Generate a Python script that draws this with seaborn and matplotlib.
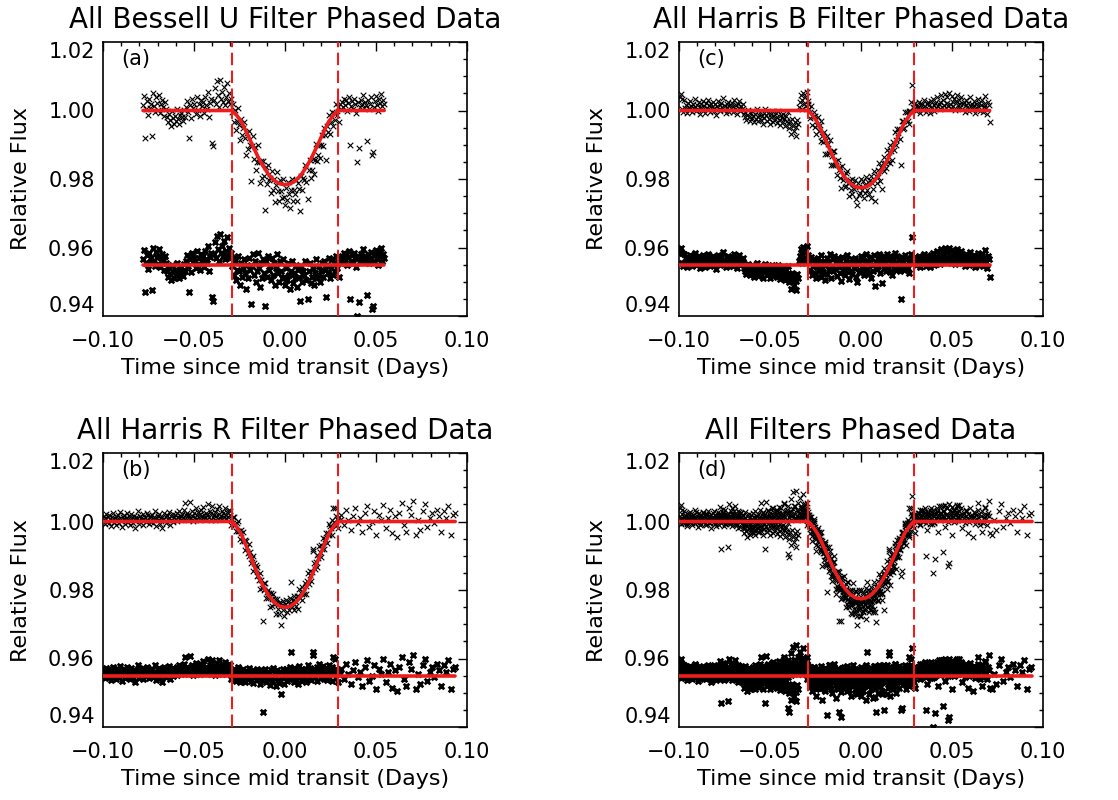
import numpy as np
import matplotlib
matplotlib.use("Agg")
import matplotlib.pyplot as plt
import seaborn as sns

# ---------------------------------------------------------------------------
# Transit model: normalised limb-darkened profile sampled in |t| (days)
# ---------------------------------------------------------------------------
contact_time = 0.029
profile_t = [0.0, 0.003, 0.006, 0.009, 0.012, 0.015, 0.018, 0.021, 0.024, 0.027, 0.029]
profile_shape = [1.0, 0.985, 0.94, 0.86, 0.75, 0.615, 0.46, 0.30, 0.15, 0.05, 0.0]

depth_U = 0.0217
depth_B = 0.0226
depth_R = 0.0251
depth_all = 0.0226

residual_offset = 0.955
contact_spike = 0.004

# observing coverage (start, end) in days from mid transit
span_U = (-0.078, 0.0545)
span_B = (-0.0995, 0.0707)
span_R_dense = (-0.1, 0.030)
span_R_tail = (0.031, 0.0935)
span_all = (-0.1, 0.094)

# residuals from the fitted model, in units of 1e-4 relative flux (time order)
resid_U = [
    15, 42, -80, 5, 28, -12, 33, 8, 20, -75, 50, 12, -5, 38, 22, 2, 45, -8, 18, 30,
    10, -15, 25, 5, -20, -35, -10, -28, -45, 0, -22, -38, -15, -30, 5, -25, -40, -12, -8, -20,
    -32, 2, -18, 10, 28, -5, -80, 15, -22, 35, 8, 20, -10, 40, 2, 18, -15, 30, 12, 25,
    -8, 40, 15, 5, 55, -20, 22, 35, -95, -105, 30, 65, 20, 85, 45, 10, 90, 35, 55, 25,
    70, 15, 40, 80, 28, 50, 18, 35, -5, 20, -30, 10, -45, -15, 25, -20, -60, 5, -35, -10,
    15, -25, -70, 0, -40, 20, -15, -115, -5, 30, -30, 10, -50, -20, 35, -10, -65, 5, -40, 15,
    -25, -120, 10, -35, 25, -15, -5, -45, 20, -30, 5, -60, -10, 30, -25, -50, 10, -20, -40, 15,
    -35, -60, -10, -45, 5, -30, -70, -20, 10, -55, -25, -40, 0, -65, -15, -35, -105, -5, -50, -20,
    -30, 10, -45, -100, -20, 5, -55, -35, -10, -60, -25, 15, -40, -30, -5, -50, -20, 5, -35, 10,
    -15, -95, 0, -25, 20, -40, -10, 15, -30, 5, -20, 25, -10, 10, -35, 20, 5, 25, 10, 35,
    15, 30, 0, 22, 40, -100, 12, 28, 5, 35, 18, -8, -150, 25, -110, 10, 30, 20, 45, 8,
    25, 15, -90, 32, 5, 20, 38, -130, -120, 10, 28, 42, 15, 0, 35, 22, 48, 12, 30, 18,
]

resid_B = [
    40, 48, 5, 35, -3, 30, 8, 15, -8, 22, 10, 2, 28, 14, -5, 20, 6, 35, 11, -2,
    16, 4, 24, -10, 9, 19, 1, 27, 13, -6, 21, 7, 32, 3, 15, -4, 18, 10, 26, 0,
    8, 20, -12, 14, 29, 5, 17, -1, 23, 11, 36, 2, 13, -7, 19, 9, 25, -3, 15, 6,
    22, -5, 12, 30, 4, 16, -9, 20, 8, 27, -2, 14, 5, 18, -10, -20, -5, -28, -12, 2,
    -18, -30, -8, -22, 0, -15, -35, -10, -25, 5, -20, -32, -12, -4, -27, -16, -38, -8, -22, 3,
    -14, -30, -6, -25, -40, -11, -19, 0, -33, -15, -24, -8, -36, -18, -2, -28, -42, -12, -21, -35,
    -9, -26, -45, -16, -30, -5, -38, -52, -30, -70, -25, -44, -60, -35, -48, -75, -28, -40, 10, 25,
    45, 5, 30, 52, 18, 38, 12, 55, 28, 20, 8, -15, 22, -30, -5, 15, -25, 10, -40, -8,
    20, -18, 5, -35, 28, -10, -22, 12, -45, 0, 18, -28, 8, -15, 30, -38, -5, 15, -20, 25,
    -12, 6, -32, 18, -8, -25, 10, -48, 22, -15, 0, -30, 14, -20, 28, -6, -42, 8, -18, 16,
    -28, 4, -10, 20, -35, -52, 12, -22, 2, -15, 25, -8, 18, -30, 6, -18, 30, -12, 10, -25,
    15, -40, 22, 0, -20, 28, -62, 8, -14, 20, -5, 32, -25, 12, -55, 18, -10, 25, 4, -18,
    30, -8, 16, -22, 24, 2, -30, 18, -12, 35, 6, -16, 26, -4, 14, -20, -100, 22, -6, 10,
    -15, 28, 0, 20, -10, 15, -24, 8, 32, 80, 12, 18, 6, 22, -2, 14, 10, 26, -6, 16,
    8, 20, 2, 30, 12, -4, 18, 24, 5, 15, -8, 28, 10, 35, 0, 17, 22, 6, 40, 12,
    20, 3, 26, 45, 10, 32, 15, 48, 8, 22, 38, 14, 50, 18, 6, 42, 25, 12, 35, 2,
    28, 45, 16, 8, 30, 20, 40, 4, 18, 26, -5, 15, 32, 10, 22, -2, 38, 12, 5, 20,
    14, 28, -8, 18, 6, 35, 12, 22, 0, 16, 30, -4, 20, 10, 42, 8, -10, 24, 15, -35,
]

resid_R_dense = [
    5, 15, -8, 10, 22, 0, 12, -5, 18, 8, -12, 14, 3, 25, -2, 9, 16, -10, 6, 20,
    -4, 11, 28, 2, -15, 13, 7, 19, -6, 10, 24, -1, 8, 15, -9, 4, 21, 12, -3, 17,
    6, -20, 14, 9, 30, 1, -7, 16, 11, 4, 23, -11, 8, 13, -2, 26, 5, 18, -8, 10,
    15, 0, 20, -5, 12, 7, 32, -14, 9, 17, 3, 22, -6, 11, 14, -18, 8, 25, 2, 13,
    -3, 19, 6, 10, 28, -9, 15, 4, 21, -1, 12, 18, 7, 24, 2, 14, 30, 9, 16, 5,
    22, 11, 35, 55, 8, 18, 26, 4, 20, 14, 58, 10, 30, 16, 2, 25, 12, 38, 6, 19,
    28, 13, 22, 4, 34, 16, 9, 42, 20, 11, 26, 7, 18, 50, 14, 30, 5, 24, 45, 12,
    20, 3, 28, 15, 36, 8, 22, 46, 10, 17, 32, 6, 25, 14, 40, 19, 9, 27, 12, 35,
    18, 30, -10, 8, 15, -5, 20, 2, -15, 12, -8, 25, 0, -20, 10, 5, -12, 18, -3, 8,
    -18, 14, 2, -10, 22, -6, 10, -15, 5, 16, -22, 8, -2, 12, -12, 20, 0, -8, 15, -25,
    6, -14, -105, 10, -5, 18, -20, 2, 12, -10, 8, -28, 15, 0, -16, 22, -6, 10, -30, 4,
    16, -12, 8, -22, 12, -55, 5, 18, -8, -25, 10, 20, -15, 2, 14, -10, 25, 70, 8, -6,
    12, -18, 22, 4, -10, 15, -25, 8, 28, -4, 10, -15, 20, 2, -8, 18, 5, -20, 12, 30,
    -6, 14, 22, -12, 8, 70, 60, 18, -5, 12, 25, -15, 6, 35, 10, -8, 20, 2, 28, -10,
    15, 4, 22, -12, 10, 30, -5, 18, 8, -15, 25, 55, 12, 50, -6, 20, 10, -18, 14, 5,
]

resid_R_tail = [
    20, -10, 35, 5, -25, 15, 40, -5, 10, -30, 25, 45, -15, 0, 30, -40, 20, 5, 48, -20,
    10, 35, -35, 15, -45, 25, 55, -10, -30, 40, 20, 60, -40, 5, -25, 30, 50, -15, 10, 25,
    -5, 35, 15, -30, 30, 10, 45, -40, 20, 25,
]

x_ticks = [-0.10, -0.05, 0.00, 0.05, 0.10]
x_tick_labels = ["\u22120.10", "\u22120.05", "0.00", "0.05", "0.10"]
y_ticks = [0.94, 0.96, 0.98, 1.00, 1.02]
y_tick_labels = ["0.94", "0.96", "0.98", "1.00", "1.02"]

titles = {
    "a": "All Bessell U Filter Phased Data",
    "b": "All Harris R Filter Phased Data",
    "c": "All Harris B Filter Phased Data",
    "d": "All Filters Phased Data",
}

RED = "#ee1c1c"


def transit_model(t, depth):
    return 1.0 - depth * np.interp(np.abs(t), profile_t, profile_shape)


def build(spans, resids, depth):
    times, res = [], []
    for (t0, t1), r in zip(spans, resids):
        times.append(np.linspace(t0, t1, len(r)))
        res.append(np.asarray(r, float) * 1e-4)
    t = np.concatenate(times)
    r = np.concatenate(res)
    return t, transit_model(t, depth) + r, r


t_U, f_U, r_U = build([span_U], [resid_U], depth_U)
t_B, f_B, r_B = build([span_B], [resid_B], depth_B)
t_R, f_R, r_R = build([span_R_dense, span_R_tail], [resid_R_dense, resid_R_tail], depth_R)
t_all = np.concatenate([t_U, t_B, t_R])
f_all = np.concatenate([f_U, f_B, f_R])
r_all = np.concatenate([r_U, r_B, r_R])

sns.set_style("white")
plt.rcParams["font.family"] = ["DejaVu Sans"]
plt.rcParams["text.color"] = "black"
plt.rcParams["axes.labelcolor"] = "black"
plt.rcParams["xtick.color"] = "black"
plt.rcParams["ytick.color"] = "black"
plt.rcParams["axes.edgecolor"] = "black"

fig = plt.figure(figsize=(11.18, 8.0), dpi=100)
W, H = 1118.0, 800.0
boxes = {
    "a": [103 / W, 484 / H, 364 / W, 274 / H],
    "c": [679 / W, 484 / H, 364 / W, 274 / H],
    "b": [103 / W, 73 / H, 364 / W, 274 / H],
    "d": [679 / W, 73 / H, 364 / W, 274 / H],
}
panels = {
    "a": (t_U, f_U, r_U, depth_U, span_U),
    "c": (t_B, f_B, r_B, depth_B, span_B),
    "b": (t_R, f_R, r_R, depth_R, (span_R_dense[0], span_R_tail[1])),
    "d": (t_all, f_all, r_all, depth_all, span_all),
}

for key in ["a", "c", "b", "d"]:
    t, f, r, depth, (ts, te) = panels[key]
    ax = fig.add_axes(boxes[key])

    sns.scatterplot(x=t, y=f, marker="x", color="black", s=16, linewidth=0.8,
                    ax=ax, legend=False, zorder=2)
    sns.scatterplot(x=t, y=r + residual_offset, marker="x", color="black", s=16,
                    linewidth=2.0, ax=ax, legend=False, zorder=2)

    # fitted model curve over the covered time span
    knots = np.array(profile_t)
    tl = np.concatenate([[ts], -knots[::-1], knots[1:], [te]])
    tl = tl[(tl >= ts) & (tl <= te)]
    sns.lineplot(x=tl, y=transit_model(tl, depth), color=RED, lw=2.6, ax=ax,
                 sort=False, estimator=None, zorder=4)
    sns.lineplot(x=[ts, te], y=[residual_offset, residual_offset], color=RED, lw=2.6,
                 ax=ax, sort=False, estimator=None, zorder=4)

    # contact points
    for tc in (-contact_time, contact_time):
        ax.axvline(tc, color=RED, lw=1.5, ls=(0, (6, 2.6)), zorder=3)
        ax.plot([tc, tc], [1.0, 1.0 + contact_spike], color=RED, lw=1.5, zorder=4)
        ax.plot([tc, tc], [residual_offset - 0.0015, residual_offset - 0.0015 + contact_spike],
                color=RED, lw=1.5, zorder=4)

    ax.set_xlim(-0.1, 0.1)
    ax.set_ylim(0.94, 1.02)
    ax.set_xticks(x_ticks)
    ax.set_xticklabels(x_tick_labels)
    ax.set_yticks(y_ticks)
    ax.set_yticklabels(y_tick_labels)
    ax.set_xticks(np.arange(-0.1, 0.1001, 0.01), minor=True)
    ax.set_yticks(np.arange(0.94, 1.0201, 0.005), minor=True)
    ax.tick_params(which="both", direction="in", top=True, right=True,
                   color="black", labelcolor="black", width=1.0, labelsize=15)
    ax.tick_params(which="major", length=6.5)
    ax.tick_params(which="minor", length=3.0)
    ax.tick_params(axis="x", which="major", pad=11)
    ax.tick_params(axis="y", which="major", pad=6)
    for sp in ax.spines.values():
        sp.set_color("black")
        sp.set_linewidth(1.2)

    ylabs = ax.get_yticklabels()
    ylabs[-1].set_va("top")
    ylabs[0].set_va("bottom")

    ax.set_xlabel("Time since mid transit (Days)", fontsize=16, labelpad=5, color="black")
    ax.set_ylabel("Relative Flux", fontsize=16, labelpad=12, color="black")
    ax.set_title(titles[key], fontsize=20, pad=10, color="black")
    ax.text(0.05, 0.975, "(" + key + ")", transform=ax.transAxes, fontsize=15,
            va="top", ha="left", color="black")

fig.savefig("out.png", dpi=100)
